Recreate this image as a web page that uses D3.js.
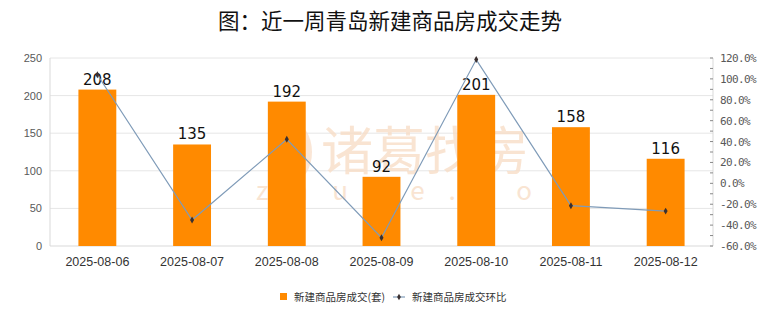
<!DOCTYPE html>
<html><head><meta charset="utf-8">
<script src="https://cdn.jsdelivr.net/npm/d3@7"></script>
<style>body{margin:0;background:#fff;}svg{display:block;font-family:"Noto Sans CJK SC","Noto Sans",sans-serif;}</style>
</head><body><svg id="c" width="780" height="328"></svg>
<script>
const categories = ["2025-08-06","2025-08-07","2025-08-08","2025-08-09","2025-08-10","2025-08-11","2025-08-12"];
const deals = [208,135,192,92,201,158,116];
const ratio = [104.0,-35.1,42.2,-52.1,118.5,-21.4,-26.6];
const leftTicks = [0,50,100,150,200,250];
const rightTicks = [-60,-40,-20,0,20,40,60,80,100,120];
const title = "图：近一周青岛新建商品房成交走势";
const seriesNames = ["新建商品房成交(套)","新建商品房成交环比"];

const svg = d3.select("#c");
const m = {l:50,r:713,t:58,b:246};
const x = d3.scaleBand().domain(categories).range([m.l,m.r]).paddingInner(0.6).paddingOuter(0.3);
const xc = d3.scaleBand().domain(categories).range([m.l,m.r]);
const yL = d3.scaleLinear().domain([0,250]).range([m.b,m.t]);
const yR = d3.scaleLinear().domain([-60,120]).range([m.b,m.t]);

svg.append("rect").attr("width",780).attr("height",328).attr("fill","#fff");

svg.append("text").attr("x",390).attr("y",29).attr("text-anchor","middle")
  .attr("font-size",21.5).attr("font-weight","400").attr("fill","#111").text(title);

// grid
svg.append("g").selectAll("line").data(leftTicks.filter(d=>d>0)).join("line")
  .attr("x1",m.l).attr("x2",m.r).attr("y1",d=>yL(d)).attr("y2",d=>yL(d))
  .attr("stroke","#e6e6e6").attr("stroke-width",1);

// watermark (background image text)
svg.append("ellipse").attr("cx",292).attr("cy",152).attr("rx",20).attr("ry",30).attr("fill","#f8dcc4").attr("opacity",0.7);
svg.append("text").attr("x",425).attr("y",170).attr("text-anchor","middle")
  .attr("font-size",52).attr("font-weight","400").attr("fill","#f8dcc4").attr("opacity",0.75).text("诸葛找房");
svg.append("text").attr("x",430).attr("y",200).attr("text-anchor","middle")
  .attr("font-size",26).attr("fill","#f8dcc4").attr("opacity",0.75).attr("letter-spacing",24).text("zhuge.com");

// axis lines
svg.append("line").attr("x1",m.l).attr("x2",m.l).attr("y1",m.t).attr("y2",m.b).attr("stroke","#d9d9d9");
svg.append("line").attr("x1",m.r).attr("x2",m.r).attr("y1",m.t).attr("y2",m.b).attr("stroke","#d9d9d9");
svg.append("line").attr("x1",m.l).attr("x2",m.r).attr("y1",m.b).attr("y2",m.b).attr("stroke","#d9d9d9");

// left axis
const gl = svg.append("g").attr("transform",`translate(${m.l},0)`)
  .call(d3.axisLeft(yL).tickValues(leftTicks).tickSize(0).tickPadding(8));
gl.select(".domain").remove();
gl.selectAll("text").attr("font-size",11).attr("fill","#595959").attr("font-family","Liberation Sans, Arial, sans-serif");

// right axis
const gr = svg.append("g").attr("transform",`translate(${m.r},0)`)
  .call(d3.axisRight(yR).tickValues(rightTicks).tickSize(0).tickPadding(7).tickFormat(d=>d.toFixed(1)+"%"));
gr.select(".domain").remove();
gr.selectAll("text").attr("font-size",11).attr("fill","#595959").attr("font-family","DejaVu Sans Mono, monospace").attr("letter-spacing",-0.6);
const minor = d3.range(-60,121,10);
svg.append("g").selectAll("line").data(minor).join("line")
  .attr("x1",m.r-3).attr("x2",m.r).attr("y1",d=>yR(d)).attr("y2",d=>yR(d))
  .attr("stroke","#888").attr("stroke-width",1);

// x axis labels
const gx = svg.append("g").attr("transform",`translate(0,${m.b})`)
  .call(d3.axisBottom(xc).tickSize(0).tickPadding(11));
gx.select(".domain").remove();
gx.selectAll("text").attr("font-size",12.5).attr("fill","#333").attr("font-family","Liberation Sans, Arial, sans-serif");

// bars
svg.append("g").selectAll("rect").data(deals).join("rect")
  .attr("x",(d,i)=>x(categories[i])).attr("width",x.bandwidth())
  .attr("y",d=>yL(d)).attr("height",d=>m.b-yL(d)).attr("fill","#ff8a00");

svg.append("g").selectAll("text").data(deals).join("text")
  .attr("x",(d,i)=>xc(categories[i])+xc.bandwidth()/2).attr("y",d=>yL(d)-5)
  .attr("text-anchor","middle").attr("font-size",15).attr("fill","#111")
  .attr("font-family","DejaVu Sans, sans-serif").text(d=>d);

// line
const line = d3.line().x((d,i)=>xc(categories[i])+xc.bandwidth()/2).y(d=>yR(d));
svg.append("path").datum(ratio).attr("d",line).attr("fill","none").attr("stroke","#7f9bb8").attr("stroke-width",1.2);
svg.append("g").selectAll("path").data(ratio).join("path")
  .attr("transform",(d,i)=>`translate(${xc(categories[i])+xc.bandwidth()/2},${yR(d)})`)
  .attr("d",d3.symbol(d3.symbolDiamond,14)).attr("fill","#3a3030");

// legend
const lg = svg.append("g");
lg.append("rect").attr("x",280).attr("y",293).attr("width",7).attr("height",7).attr("fill","#ff8a00");
lg.append("text").attr("x",294).attr("y",300.5).attr("font-size",10.5).attr("fill","#333").text(seriesNames[0]);
lg.append("line").attr("x1",393).attr("x2",405).attr("y1",297).attr("y2",297).attr("stroke","#7f9bb8").attr("stroke-width",1.2);
lg.append("path").attr("transform","translate(399,297)").attr("d",d3.symbol(d3.symbolDiamond,12)).attr("fill","#3a3030");
lg.append("text").attr("x",412).attr("y",300.5).attr("font-size",10.5).attr("fill","#333").text(seriesNames[1]);
</script></body></html>
